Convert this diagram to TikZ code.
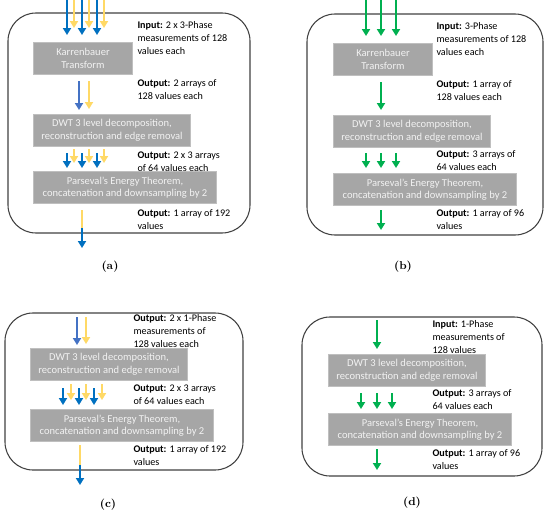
\documentclass[tikz,border=0pt]{standalone}
\usepackage{fontspec}
\newfontfamily\calibri{Carlito}
\usetikzlibrary{arrows.meta}

\definecolor{boxgray}{RGB}{166,166,166}
\definecolor{boxline}{RGB}{191,191,191}
\definecolor{boxtext}{RGB}{242,242,242}
\definecolor{panelline}{RGB}{64,64,64}
\definecolor{phblue}{RGB}{0,112,192}
\definecolor{phlblue}{RGB}{68,114,196}
\definecolor{phyellow}{RGB}{255,217,102}
\definecolor{phgreen}{RGB}{0,176,80}

\tikzset{every picture/.style={line width=0.75pt}}
\tikzset{
	panel/.style={draw=panelline, line width=0.8pt, rounded corners=21pt},
	procbox/.style={draw=boxline, fill=boxgray, text=boxtext, align=center, inner sep=0pt, anchor=north west, minimum height=24pt, font=\calibri\fontsize{7.9}{9.4}\selectfont},
	ktbox/.style={procbox, minimum width=74.25pt},
	dwtbox/.style={procbox, minimum width=117.75pt},
	petbox/.style={procbox, minimum width=137.25pt},
	infotext/.style={align=left, anchor=north west, inner sep=0pt, font=\calibri\fontsize{7.6}{9.75}\selectfont},
	subcap/.style={font=\fontsize{8.5}{10}\selectfont\bfseries},
	flow/.style={line width=1.9pt, -{Triangle[width=6pt,length=5.2pt]}},
	flowbar/.style={line width=1.9pt}
}

\begin{document}
\begin{tikzpicture}[x=0.75pt,y=0.75pt,yscale=-1,xscale=1]
	\useasboundingbox (0,0) rectangle (550,514);

	%Shape: Rounded Rect (a)
	\draw[panel] (8,13) rectangle (250,233);
	%Shape: Rounded Rect (b)
	\draw[panel] (307,14) rectangle (543,235);
	%Shape: Rounded Rect (c)
	\draw[panel] (5,313) rectangle (243,470);
	%Shape: Rounded Rect (d)
	\draw[panel] (302,317) rectangle (542,476);

	% Boxes (a)
	\node[ktbox] (kta) at (33,42) {Karrenbauer\\Transform};
	\node[dwtbox] (dwta) at (33,114) {DWT 3 level decomposition,\\reconstruction and edge removal};
	\node[petbox] (peta) at (33,171) {Parseval’s Energy Theorem,\\concatenation and downsampling by 2};
	% Boxes (b)
	\node[ktbox] (ktb) at (333,43) {Karrenbauer\\Transform};
	\node[dwtbox] (dwtb) at (333,115) {DWT 3 level decomposition,\\reconstruction and edge removal};
	\node[petbox] (petb) at (333,173) {Parseval’s Energy Theorem,\\concatenation and downsampling by 2};
	% Boxes (c)
	\node[dwtbox] (dwtc) at (30,348) {DWT 3 level decomposition,\\reconstruction and edge removal};
	\node[petbox] (petc) at (30,409) {Parseval’s Energy Theorem,\\concatenation and downsampling by 2};
	% Boxes (d)
	\node[dwtbox] (dwtd) at (328,354) {DWT 3 level decomposition,\\reconstruction and edge removal};
	\node[petbox] (petd) at (328,413) {Parseval’s Energy Theorem,\\concatenation and downsampling by 2};

	% Arrows (a)
	\foreach \i/\x in {1/67,2/82,3/97} {
		\coordinate (ainb\i) at (\x,0); \coordinate (aktb\i) at (\x,35);
		\draw[flow, phblue] (ainb\i) -- (aktb\i);
		\coordinate (amidb\i s) at (\x,153); \coordinate (amidb\i e) at (\x,168);
		\draw[flow, phblue] (amidb\i s) -- (amidb\i e);
	}
	\foreach \i/\x in {1/74,2/89,3/104} {
		\coordinate (ainy\i) at (\x,0); \coordinate (akty\i) at (\x,28);
		\draw[flow, phyellow] (ainy\i) -- (akty\i);
		\coordinate (amidy\i s) at (\x,149); \coordinate (amidy\i e) at (\x,163);
		\draw[flow, phyellow] (amidy\i s) -- (amidy\i e);
	}
	\coordinate (aoutb1) at (79,81); \coordinate (aoutb2) at (79,110);
	\draw[flow, phlblue] (aoutb1) -- (aoutb2);
	\coordinate (aouty1) at (89,81); \coordinate (aouty2) at (89,109);
	\draw[flow, phyellow] (aouty1) -- (aouty2);
	\coordinate (aend1) at (82,210); \coordinate (aend2) at (82,228); \coordinate (aend3) at (82,248);
	\draw[flowbar, phyellow] (aend1) -- (aend2);
	\draw[flow, phblue] (aend2) -- (aend3);

	% Arrows (b)
	\foreach \i/\x in {1/366,2/381,3/396} {
		\coordinate (bin\i) at (\x,0); \coordinate (bkt\i) at (\x,36);
		\draw[flow, phgreen] (bin\i) -- (bkt\i);
		\coordinate (bmid\i s) at (\x,153); \coordinate (bmid\i e) at (\x,168);
		\draw[flow, phgreen] (bmid\i s) -- (bmid\i e);
	}
	\coordinate (bout1) at (381,82); \coordinate (bout2) at (381,110);
	\draw[flow, phgreen] (bout1) -- (bout2);
	\coordinate (bend1) at (381,210); \coordinate (bend2) at (381,230);
	\draw[flow, phgreen] (bend1) -- (bend2);

	% Arrows (c)
	\coordinate (cinb1) at (77,317); \coordinate (cinb2) at (77,345);
	\draw[flow, phlblue] (cinb1) -- (cinb2);
	\coordinate (ciny1) at (86,317); \coordinate (ciny2) at (86,344);
	\draw[flow, phyellow] (ciny1) -- (ciny2);
	\foreach \i/\x in {1/63,2/79,3/94} {
		\coordinate (cmidb\i s) at (\x,388); \coordinate (cmidb\i e) at (\x,405);
		\draw[flow, phblue] (cmidb\i s) -- (cmidb\i e);
	}
	\foreach \i/\x in {1/71,2/86,3/102} {
		\coordinate (cmidy\i s) at (\x,384); \coordinate (cmidy\i e) at (\x,400);
		\draw[flow, phyellow] (cmidy\i s) -- (cmidy\i e);
	}
	\coordinate (cend1) at (80,445); \coordinate (cend2) at (80,465); \coordinate (cend3) at (80,485);
	\draw[flowbar, phyellow] (cend1) -- (cend2);
	\draw[flow, phblue] (cend2) -- (cend3);

	% Arrows (d)
	\coordinate (din1) at (377,320); \coordinate (din2) at (377,349);
	\draw[flow, phgreen] (din1) -- (din2);
	\foreach \i/\x in {1/361,2/377,3/392} {
		\coordinate (dmid\i s) at (\x,393); \coordinate (dmid\i e) at (\x,409);
		\draw[flow, phgreen] (dmid\i s) -- (dmid\i e);
	}
	\coordinate (dend1) at (377,449); \coordinate (dend2) at (377,470);
	\draw[flow, phgreen] (dend1) -- (dend2);

	% Text Node (a)
	\node[infotext] (ina) at (137,21) {\textbf{Input:} 2 x 3-Phase\\measurements of 128\\values each};
	\node[infotext] (outa1) at (137,79) {\textbf{Output:} 2 arrays of\\128 values each};
	\node[infotext] (outa2) at (137,151) {\textbf{Output:} 2 x 3 arrays\\of 64 values each};
	\node[infotext] (outa3) at (137,209) {\textbf{Output:} 1 array of 192\\values};
	% Text Node (b)
	\node[infotext] (inb) at (436,22) {\textbf{Input:} 3-Phase\\measurements of 128\\values each};
	\node[infotext] (outb1) at (436,80) {\textbf{Output:} 1 array of\\128 values each};
	\node[infotext] (outb2) at (436,150) {\textbf{Output:} 3 arrays of\\64 values each};
	\node[infotext] (outb3) at (436,209) {\textbf{Output:} 1 array of 96\\values};
	% Text Node (c)
	\node[infotext] (inc) at (133,314) {\textbf{Output:} 2 x 1-Phase\\measurements of\\128 values each};
	\node[infotext] (outc1) at (133,384) {\textbf{Output:} 2 x 3 arrays\\of 64 values each};
	\node[infotext] (outc2) at (133,445) {\textbf{Output:} 1 array of 192\\values};
	% Text Node (d)
	\node[infotext] (ind) at (432,320) {\textbf{Input:} 1-Phase\\measurements of\\128 values};
	\node[infotext] (outd1) at (432,389) {\textbf{Output:} 3 arrays of\\64 values each};
	\node[infotext] (outd2) at (432,449) {\textbf{Output:} 1 array of 96\\values};

	% Captions
	\node[subcap] (capa) at (110,267) {(a)};
	\node[subcap] (capb) at (403,267) {(b)};
	\node[subcap] (capc) at (108,505) {(c)};
	\node[subcap] (capd) at (412,503) {(d)};
\end{tikzpicture}
\end{document}
